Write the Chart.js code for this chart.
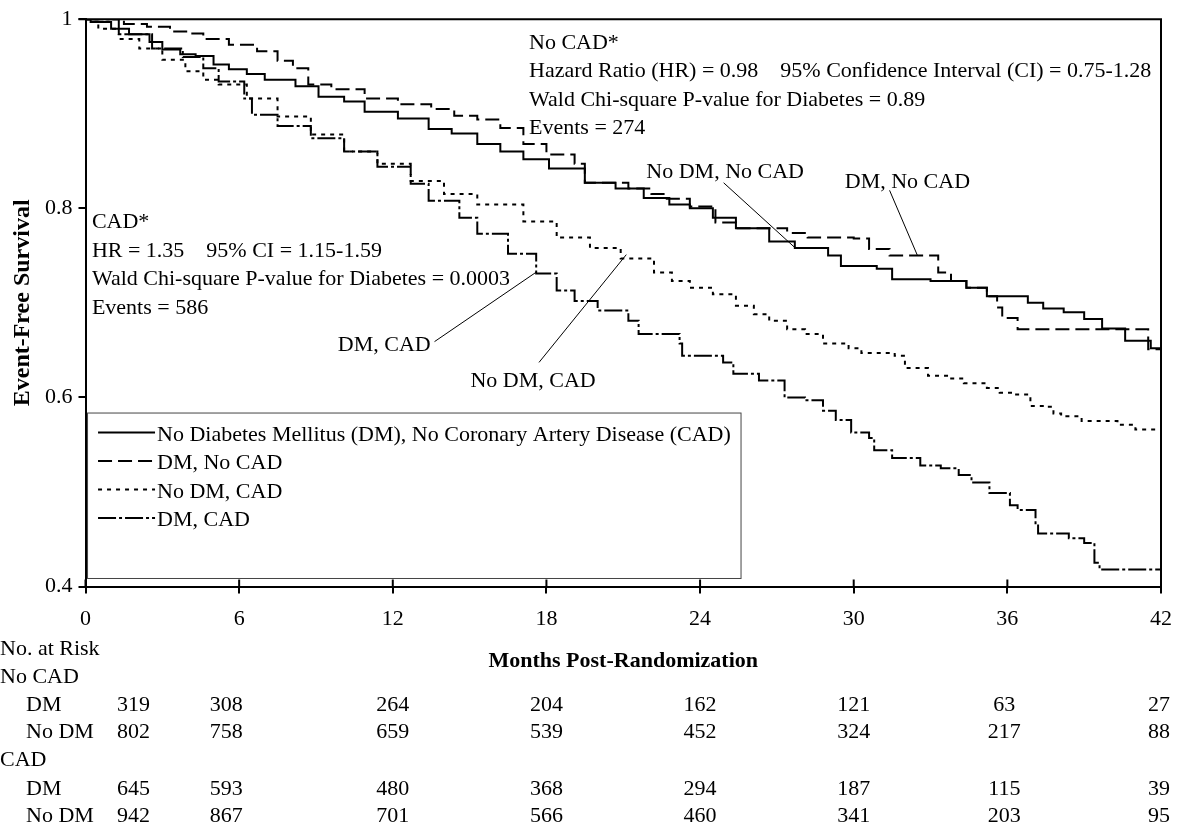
<!DOCTYPE html>
<html>
<head>
<meta charset="utf-8">
<script src="https://cdn.jsdelivr.net/npm/chart.js@4.4.1/dist/chart.umd.min.js"></script>
<style>
  html, body { margin: 0; padding: 0; background: #fff; }
  #wrap { width: 1185px; height: 826px; }
</style>
</head>
<body>
<div id="wrap"><canvas id="km" width="1185" height="826"></canvas></div>
<script>
// Kaplan-Meier curves (months, survival after each drop)
const noDmNoCadMonths = [0, 0.2, 1.0, 1.7, 2.5, 3.0, 3.7, 4.3, 5.0, 5.6, 6.3, 7.0, 8.2, 9.1, 10.1, 10.9, 12.2, 13.4, 14.3, 15.3, 16.2, 17.1, 18.1, 19.5, 20.7, 21.8, 22.8, 23.6, 24.5, 25.4, 26.7, 27.7, 29.0, 29.5, 30.9, 31.5, 33.0, 34.4, 35.2, 36.8, 37.4, 38.2, 39.0, 39.7, 40.6, 41.6, 42];
const noDmNoCadSurv = [1, 0.997, 0.990, 0.984, 0.976, 0.968, 0.963, 0.961, 0.952, 0.947, 0.942, 0.936, 0.929, 0.918, 0.913, 0.902, 0.895, 0.884, 0.879, 0.868, 0.860, 0.852, 0.842, 0.827, 0.821, 0.811, 0.804, 0.800, 0.790, 0.779, 0.765, 0.758, 0.750, 0.739, 0.736, 0.725, 0.723, 0.716, 0.707, 0.700, 0.694, 0.690, 0.683, 0.673, 0.660, 0.652, 0.649];

const dmNoCadMonths = [0, 1.5, 2.4, 3.3, 4.1, 4.6, 5.6, 6.7, 7.5, 8.1, 8.7, 9.6, 10.9, 12.2, 13.5, 14.4, 15.3, 16.2, 17.1, 18.0, 19.1, 19.5, 21.2, 22.1, 22.7, 23.6, 24.6, 25.4, 27.4, 28.2, 30.0, 30.6, 31.4, 33.3, 33.8, 34.4, 35.2, 35.6, 35.8, 36.4, 41.5, 42];
const dmNoCadSurv = [1, 0.995, 0.992, 0.987, 0.985, 0.979, 0.973, 0.966, 0.956, 0.948, 0.931, 0.926, 0.916, 0.910, 0.905, 0.898, 0.894, 0.885, 0.868, 0.857, 0.847, 0.827, 0.821, 0.815, 0.810, 0.802, 0.785, 0.779, 0.774, 0.769, 0.768, 0.757, 0.750, 0.732, 0.723, 0.716, 0.707, 0.695, 0.684, 0.672, 0.651, 0.651];

const noDmCadMonths = [0, 0.5, 1.3, 2.1, 3.0, 3.9, 4.6, 5.2, 6.3, 7.5, 8.8, 10.1, 11.4, 12.7, 14.0, 15.3, 17.1, 18.4, 19.7, 20.9, 22.2, 22.9, 23.6, 24.5, 25.4, 26.1, 26.7, 27.4, 28.1, 28.8, 29.8, 30.3, 31.6, 32.0, 32.9, 33.7, 34.3, 35.2, 35.7, 36.3, 36.9, 37.5, 37.8, 38.1, 38.9, 40.3, 41.0, 42];
const noDmCadSurv = [1, 0.990, 0.979, 0.969, 0.957, 0.945, 0.936, 0.931, 0.916, 0.897, 0.878, 0.860, 0.847, 0.829, 0.815, 0.804, 0.786, 0.769, 0.758, 0.747, 0.732, 0.723, 0.716, 0.709, 0.697, 0.688, 0.681, 0.672, 0.667, 0.657, 0.652, 0.647, 0.644, 0.631, 0.623, 0.620, 0.615, 0.610, 0.605, 0.603, 0.591, 0.590, 0.583, 0.580, 0.575, 0.571, 0.566, 0.566];

const dmCadMonths = [0, 1.3, 2.6, 3.8, 4.6, 5.2, 6.2, 6.5, 7.5, 8.8, 10.1, 11.4, 12.7, 13.4, 14.6, 15.3, 16.5, 17.6, 18.4, 19.1, 20.0, 21.2, 21.6, 23.2, 23.3, 24.9, 25.3, 26.3, 27.3, 28.1, 28.8, 29.3, 29.9, 30.6, 30.8, 31.5, 32.6, 33.4, 34.1, 34.6, 35.3, 36.1, 36.4, 37.1, 37.2, 38.4, 39.0, 39.4, 39.6, 42];
const dmCadSurv = [1, 0.984, 0.969, 0.960, 0.948, 0.934, 0.916, 0.899, 0.887, 0.874, 0.860, 0.844, 0.826, 0.808, 0.790, 0.773, 0.752, 0.731, 0.713, 0.702, 0.692, 0.681, 0.667, 0.657, 0.644, 0.637, 0.625, 0.618, 0.600, 0.597, 0.586, 0.576, 0.563, 0.557, 0.544, 0.536, 0.528, 0.525, 0.518, 0.510, 0.499, 0.486, 0.481, 0.467, 0.456, 0.451, 0.446, 0.425, 0.418, 0.410];

const xTicks = [0, 6, 12, 18, 24, 30, 36, 42];
const yTicks = [0.4, 0.6, 0.8, 1];

// number at risk table
const riskMonths = [0, 6, 12, 18, 24, 30, 36, 42];
const riskNoCadDm = [319, 308, 264, 204, 162, 121, 63, 27];
const riskNoCadNoDm = [802, 758, 659, 539, 452, 324, 217, 88];
const riskCadDm = [645, 593, 480, 368, 294, 187, 115, 39];
const riskCadNoDm = [942, 867, 701, 566, 460, 341, 203, 95];

const noCadText = ['No CAD*', 'Hazard Ratio (HR) = 0.98    95% Confidence Interval (CI) = 0.75-1.28', 'Wald Chi-square P-value for Diabetes = 0.89', 'Events = 274'];
const cadText = ['CAD*', 'HR = 1.35    95% CI = 1.15-1.59', 'Wald Chi-square P-value for Diabetes = 0.0003', 'Events = 586'];

const FONT = '"Liberation Serif", "Times New Roman", serif';

function steps(months, surv) {
  return months.map((m, i) => ({ x: m, y: surv[i] }));
}

// curve labels: text anchor and pointer, in data units
const curveLabels = [
  { text: 'No DM, No CAD', at: [21.9, 0.832], align: 'left', from: [24.92, 0.827], to: [27.72, 0.758] },
  { text: 'DM, No CAD', at: [29.65, 0.821], align: 'left', from: [31.4, 0.819], to: [32.49, 0.750] },
  { text: 'DM, CAD', at: [13.48, 0.649], align: 'right', from: [13.63, 0.659], to: [17.63, 0.733] },
  { text: 'No DM, CAD', at: [15.03, 0.611], align: 'left', from: [17.71, 0.637], to: [21.12, 0.751] }
];

const decor = {
  id: 'decor',
  afterDraw(chart) {
    const ctx = chart.ctx;
    const xs = chart.scales.x, ys = chart.scales.y;
    const a = chart.chartArea;
    const px = v => xs.getPixelForValue(v);
    const py = v => ys.getPixelForValue(v);
    ctx.save();

    // frame top/right and inner half of the x ticks
    ctx.strokeStyle = '#000';
    ctx.lineWidth = 2;
    ctx.beginPath();
    ctx.moveTo(a.left - 7, a.top);
    ctx.lineTo(a.right, a.top);
    ctx.lineTo(a.right, a.bottom);
    xTicks.forEach(t => { ctx.moveTo(px(t), a.bottom); ctx.lineTo(px(t), a.bottom - 7); });
    ctx.stroke();

    ctx.fillStyle = '#000';
    ctx.font = '22px ' + FONT;
    ctx.textBaseline = 'alphabetic';

    // statistics blocks
    ctx.textAlign = 'left';
    noCadText.forEach((t, i) => ctx.fillText(t, px(17.32), py(0.969) + i * 28.5));
    cadText.forEach((t, i) => ctx.fillText(t, px(0.25), py(0.779) + i * 28.5));

    // curve labels with pointers
    ctx.lineWidth = 1;
    curveLabels.forEach(l => {
      ctx.textAlign = l.align;
      ctx.fillText(l.text, px(l.at[0]), py(l.at[1]));
      ctx.beginPath();
      ctx.moveTo(px(l.from[0]), py(l.from[1]));
      ctx.lineTo(px(l.to[0]), py(l.to[1]));
      ctx.stroke();
    });

    // legend box
    const bx = px(0.06), by = py(0.584);
    const bw = px(25.58) - bx, bh = py(0.409) - by;
    ctx.fillStyle = '#fff';
    ctx.fillRect(bx, by, bw, bh);
    ctx.strokeStyle = '#444';
    ctx.strokeRect(bx + 0.5, by + 0.5, bw, bh);
    ctx.fillStyle = '#000';
    ctx.strokeStyle = '#000';
    ctx.textAlign = 'left';
    chart.data.datasets.forEach((ds, i) => {
      const base = by + 28 + i * 28.5;
      ctx.lineWidth = 2;
      ctx.setLineDash(ds.borderDash || []);
      ctx.beginPath();
      ctx.moveTo(bx + 11, base - 8);
      ctx.lineTo(bx + 68, base - 8);
      ctx.stroke();
      ctx.setLineDash([]);
      ctx.fillText(ds.label, bx + 70, base);
    });

    // number at risk table
    const colShift = [48, -13, 0, 0, 0, 0, -3, -2];
    const rows = [
      { label: 'No. at Risk', lx: 0, base: 655 },
      { label: 'No CAD', lx: 0, base: 683 },
      { label: 'DM', lx: 26, base: 711, values: riskNoCadDm },
      { label: 'No DM', lx: 26, base: 738, values: riskNoCadNoDm },
      { label: 'CAD', lx: 0, base: 766 },
      { label: 'DM', lx: 26, base: 795, values: riskCadDm },
      { label: 'No DM', lx: 26, base: 822, values: riskCadNoDm }
    ];
    rows.forEach(r => {
      ctx.textAlign = 'left';
      ctx.fillText(r.label, r.lx, r.base);
      if (r.values) {
        ctx.textAlign = 'center';
        r.values.forEach((v, i) => ctx.fillText(String(v), px(riskMonths[i]) + colShift[i], r.base));
      }
    });
    ctx.restore();
  }
};

Chart.defaults.font.family = FONT;
Chart.defaults.color = '#000';

new Chart(document.getElementById('km'), {
  type: 'line',
  data: {
    datasets: [
      { label: 'No Diabetes Mellitus (DM), No Coronary Artery Disease (CAD)', data: steps(noDmNoCadMonths, noDmNoCadSurv), borderDash: [] },
      { label: 'DM, No CAD', data: steps(dmNoCadMonths, dmNoCadSurv), borderDash: [14, 6] },
      { label: 'No DM, CAD', data: steps(noDmCadMonths, noDmCadSurv), borderDash: [4, 5] },
      { label: 'DM, CAD', data: steps(dmCadMonths, dmCadSurv), borderDash: [18, 3, 3, 3] }
    ].map(ds => Object.assign(ds, {
      borderColor: '#000', borderWidth: 2, pointRadius: 0, stepped: true, fill: false
    }))
  },
  options: {
    responsive: false,
    animation: false,
    devicePixelRatio: 1,
    layout: { padding: { top: 17.5, right: 17, left: 0, bottom: 0 } },
    plugins: { legend: { display: false }, tooltip: { enabled: false } },
    scales: {
      x: {
        type: 'linear', min: 0, max: 42,
        afterBuildTicks: s => { s.ticks = xTicks.map(v => ({ value: v })); },
        afterFit: s => { s.height = 239.5; },
        grid: { drawOnChartArea: false, drawTicks: true, tickLength: 7, color: '#000', lineWidth: 2 },
        border: { color: '#000', width: 2 },
        ticks: { font: { size: 22 }, padding: 13, maxRotation: 0, callback: v => String(v) },
        title: { display: true, text: 'Months Post-Randomization', font: { size: 22, weight: 'bold' }, padding: { top: 0, bottom: 151 } }
      },
      y: {
        min: 0.4, max: 1,
        afterBuildTicks: s => { s.ticks = yTicks.map(v => ({ value: v })); },
        afterFit: s => { s.width = 85.5; },
        grid: { drawOnChartArea: false, drawTicks: true, tickLength: 7, color: '#000', lineWidth: 2 },
        border: { color: '#000', width: 2 },
        ticks: { font: { size: 22 }, padding: 6, callback: v => String(Number(v.toFixed(1))) },
        title: { display: true, text: 'Event-Free Survival', font: { size: 24, weight: 'bold' }, padding: { top: 8, bottom: 0 } }
      }
    }
  },
  plugins: [decor]
});
</script>
</body>
</html>
